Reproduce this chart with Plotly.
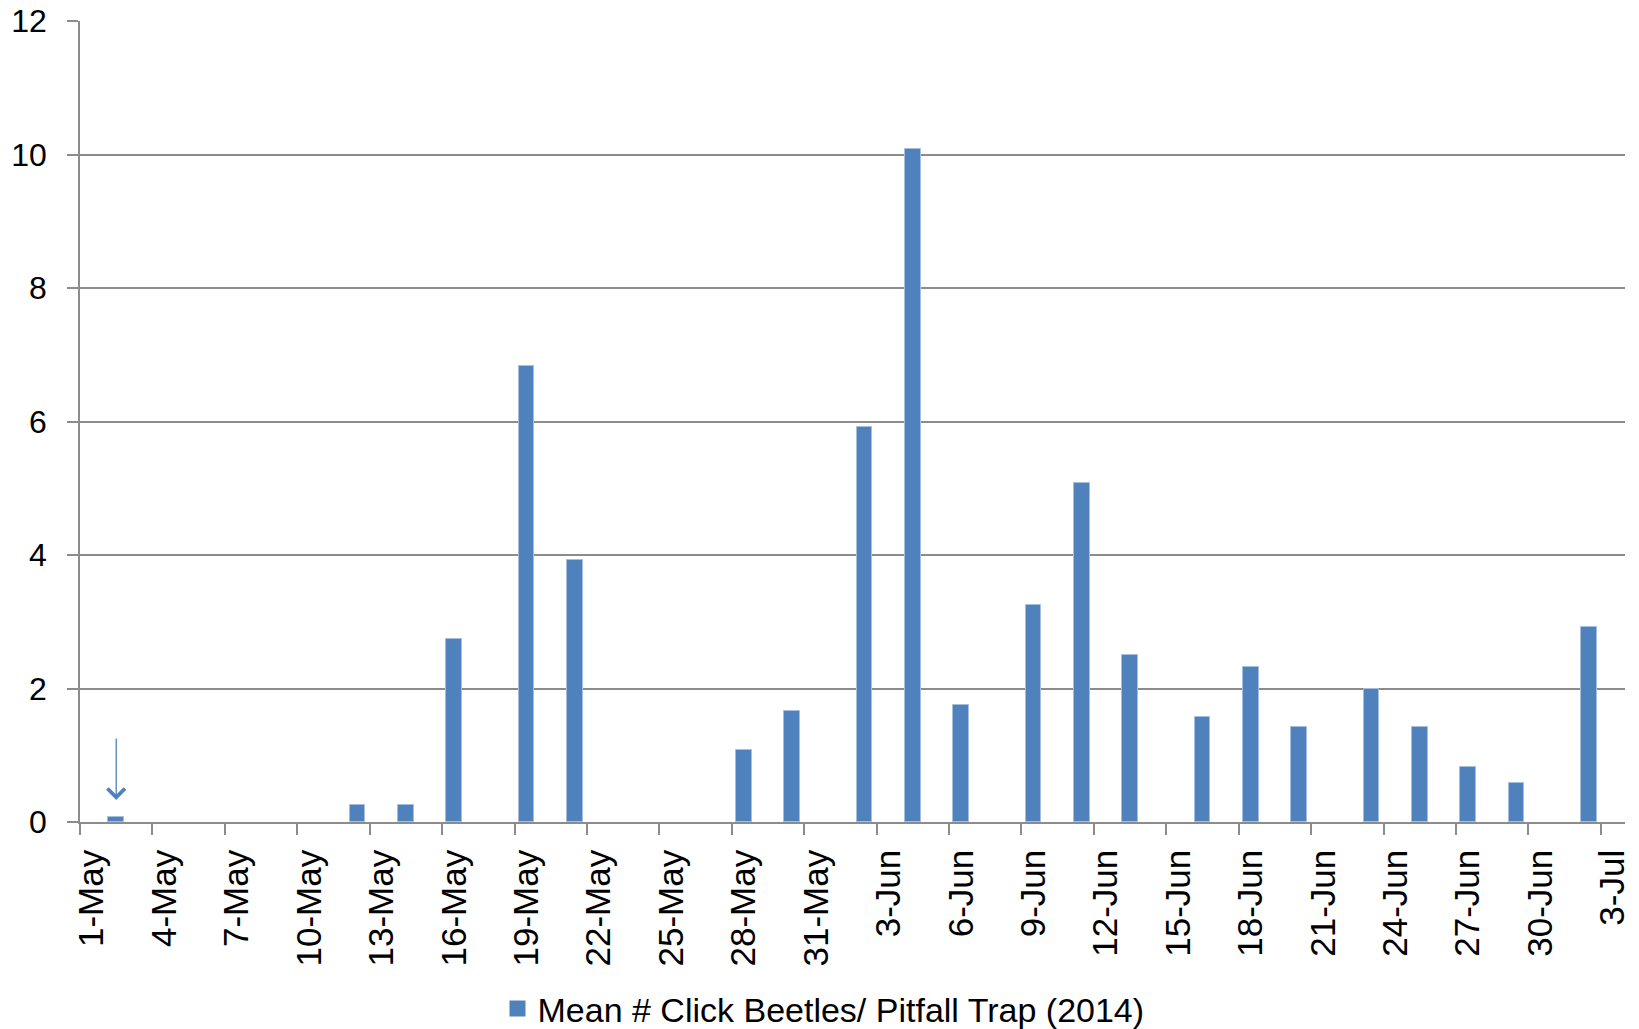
import pandas as pd
import plotly.graph_objects as go

# ---- data ----
dates = ["2014-05-02", "2014-05-12", "2014-05-14", "2014-05-16", "2014-05-19", "2014-05-21",
         "2014-05-28", "2014-05-30", "2014-06-02", "2014-06-04", "2014-06-06", "2014-06-09",
         "2014-06-11", "2014-06-13", "2014-06-16", "2014-06-18", "2014-06-20", "2014-06-23",
         "2014-06-25", "2014-06-27", "2014-06-29", "2014-07-02"]
values = [0.08, 0.25, 0.25, 2.75, 6.83, 3.92,
          1.08, 1.67, 5.92, 10.08, 1.75, 3.25,
          5.08, 2.5, 1.58, 2.33, 1.42, 2.0,
          1.42, 0.83, 0.58, 2.92]
tick_dates = ["2014-05-01", "2014-05-04", "2014-05-07", "2014-05-10", "2014-05-13", "2014-05-16",
              "2014-05-19", "2014-05-22", "2014-05-25", "2014-05-28", "2014-05-31", "2014-06-03",
              "2014-06-06", "2014-06-09", "2014-06-12", "2014-06-15", "2014-06-18", "2014-06-21",
              "2014-06-24", "2014-06-27", "2014-06-30", "2014-07-03"]
tick_labels = ["1-May", "4-May", "7-May", "10-May", "13-May", "16-May", "19-May", "22-May",
               "25-May", "28-May", "31-May", "3-Jun", "6-Jun", "9-Jun", "12-Jun", "15-Jun",
               "18-Jun", "21-Jun", "24-Jun", "27-Jun", "30-Jun", "3-Jul"]
series_name = "Mean # Click Beetles/ Pitfall Trap (2014)"
arrow_date = "2014-05-02"
arrow_tip_value = 0.33

BLUE = "#4F81BD"
GRID = "#8C8C8C"
FONT = "Liberation Sans"
half_day = pd.Timedelta(hours=12)

# page body has an 8px margin, so the figure is sized/positioned to compensate
FIG_W, FIG_H = 1631, 1021

x_centers = pd.to_datetime(dates) + half_day
tick_centers = pd.to_datetime(tick_dates) + half_day

fig = go.Figure()
fig.add_trace(go.Bar(
    x=x_centers, y=values, name=series_name,
    width=0.65 * 86400000,
    marker=dict(color=BLUE, line=dict(color="#A7BFDE", width=1)),
    showlegend=False,
))
# legend entry (square swatch)
fig.add_trace(go.Scatter(
    x=[None], y=[None], mode="markers", name=series_name,
    marker=dict(symbol="square", size=16, color=BLUE),
    showlegend=True,
))

fig.add_annotation(
    x=pd.to_datetime(arrow_date) + half_day, y=arrow_tip_value,
    xref="x", yref="y", text="", showarrow=True,
    ax=0, ay=-63, arrowhead=4, arrowsize=2.6, arrowwidth=1.3, arrowcolor=BLUE,
)

fig.update_layout(
    width=FIG_W, height=FIG_H,
    margin=dict(l=72, r=14, t=13, b=207, autoexpand=False),
    paper_bgcolor="white", plot_bgcolor="white",
    font=dict(family=FONT, size=32, color="black"),
    bargap=0,
    showlegend=True,
    legend=dict(orientation="h", xref="container", yref="container",
                x=0.5, xanchor="center", y=1 - 1001 / FIG_H, yanchor="middle",
                itemsizing="trace",
                font=dict(family=FONT, size=34, color="black")),
    xaxis=dict(
        type="date",
        range=["2014-05-01", "2014-07-04"],
        tickmode="array", tickvals=tick_centers, ticktext=tick_labels,
        tickangle=-90, ticks="", showgrid=False,
        showline=True, linecolor=GRID, linewidth=1.5,
        tickfont=dict(family=FONT, size=35, color="black"),
        ticklabelstandoff=12,
        ticklabeloverflow="allow",
        automargin=False,
        minor=dict(tickmode="array", tickvals=pd.to_datetime(tick_dates), ticks="outside",
                   ticklen=11, tickwidth=1.5, tickcolor=GRID, showgrid=False),
        fixedrange=True,
    ),
    yaxis=dict(
        range=[0, 12.004], dtick=2, tick0=0,
        showgrid=True, gridcolor=GRID, gridwidth=1.5,
        zeroline=False,
        showline=True, linecolor=GRID, linewidth=1.5,
        ticks="outside", ticklen=11, tickwidth=1.5, tickcolor=GRID,
        tickfont=dict(family=FONT, size=32, color="black"),
        ticklabelstandoff=14,
        ticklabeloverflow="allow",
        automargin=False,
        fixedrange=True,
    ),
)

fig.write_html("out.html")
